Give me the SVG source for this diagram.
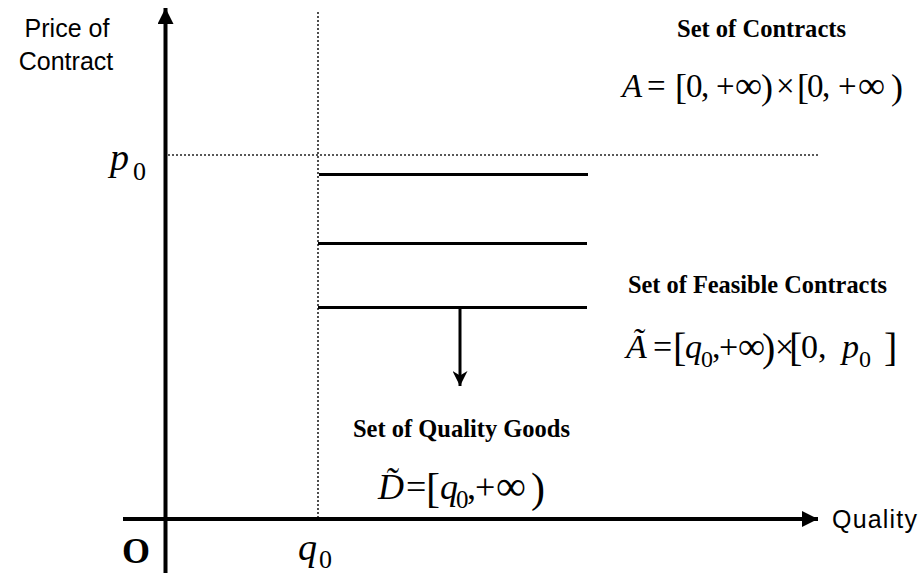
<svg xmlns="http://www.w3.org/2000/svg" width="921" height="573" viewBox="0 0 921 573">
<style>
.sans{font-family:"Liberation Sans",Arial,sans-serif;fill:#000}
.serif{font-family:"Liberation Serif","Times New Roman",serif;fill:#000}
.bold{font-family:"Liberation Serif","Times New Roman",serif;font-weight:bold;fill:#000}
.it{font-style:italic}
.axis{stroke:#000;stroke-width:4;fill:none}
.dot{stroke:#222;stroke-width:1.6;stroke-dasharray:2 2;fill:none}
.bar{stroke:#000;stroke-width:3;fill:none}
</style>
<defs>
<marker id="ah" viewBox="0 0 10 10" refX="10" refY="5" markerWidth="4" markerHeight="4" markerUnits="strokeWidth" orient="auto">
<path d="M0,0 L10,5 L0,10 z" fill="#000"/>
</marker>
<marker id="ah2" viewBox="0 0 10 10" refX="10" refY="5" markerWidth="5" markerHeight="5" markerUnits="strokeWidth" orient="auto">
<path d="M0,0 L10,5 L0,10 L3,5 z" fill="#000"/>
</marker>
</defs>
<rect width="921" height="573" fill="#fff"/>
<g id="connectors">
<line id="y-axis" class="axis" x1="165.5" y1="573" x2="165.5" y2="8" marker-end="url(#ah)"/>
<line id="x-axis" class="axis" x1="123" y1="519" x2="818" y2="519" marker-end="url(#ah)"/>
<line class="dot" x1="318" y1="12" x2="318" y2="517"/>
<line class="dot" x1="168" y1="155" x2="818" y2="155"/>
<line class="bar" x1="319" y1="174.5" x2="588" y2="174.5"/>
<line class="bar" x1="318" y1="243.5" x2="587" y2="243.5"/>
<line class="bar" x1="318" y1="307.5" x2="587" y2="307.5"/>
<line id="down-arrow" class="bar" x1="460" y1="307" x2="460" y2="386" marker-end="url(#ah2)"/>
</g>
<g id="axis-labels">
<text class="sans" x="67" y="37" font-size="25" text-anchor="middle">Price of</text>
<text class="sans" x="66" y="70" font-size="25" text-anchor="middle">Contract</text>
<text class="sans" x="832" y="528" font-size="25" textLength="85">Quality</text>
<text class="bold" x="122" y="563" font-size="36">O</text>
<text class="serif" x="110" y="170" font-size="38"><tspan class="it">p</tspan><tspan font-size="26" x="133" y="180">0</tspan></text>
<text class="serif" x="298" y="560" font-size="38"><tspan class="it">q</tspan><tspan font-size="26" x="319" y="568">0</tspan></text>
</g>
<g id="set-of-contracts">
<text class="bold" x="677" y="37" font-size="24.5" textLength="169" lengthAdjust="spacingAndGlyphs">Set of Contracts</text>
<text class="serif" font-size="33" y="97"><tspan class="it" x="622">A</tspan><tspan x="647">=</tspan><tspan x="675" y="99" font-size="36">[</tspan><tspan x="686" y="97">0</tspan><tspan x="701">,</tspan><tspan x="716">+</tspan><tspan x="735" y="98" font-size="38">∞</tspan><tspan x="761" y="99" font-size="36">)</tspan><tspan x="776" y="97">×</tspan><tspan x="797" y="99" font-size="36">[</tspan><tspan x="807" y="97">0</tspan><tspan x="822">,</tspan><tspan x="838">+</tspan><tspan x="858" y="98" font-size="38">∞</tspan><tspan x="891" y="99" font-size="36">)</tspan></text>
</g>
<g id="set-of-feasible-contracts">
<text class="bold" x="628" y="293" font-size="24.5" textLength="259" lengthAdjust="spacingAndGlyphs">Set of Feasible Contracts</text>
<text class="serif" font-size="34" y="358"><tspan class="it" x="626">Ã</tspan><tspan x="653">=</tspan><tspan x="673" y="361" font-size="40">[</tspan><tspan class="it" x="685" y="358">q</tspan><tspan x="701" y="367" font-size="24">0</tspan><tspan x="712" y="358">,</tspan><tspan x="719">+</tspan><tspan x="738" y="359" font-size="38">∞</tspan><tspan x="762" y="361" font-size="40">)</tspan><tspan x="775" y="358">×</tspan><tspan x="789" y="361" font-size="40">[</tspan><tspan x="801" y="358">0</tspan><tspan x="818">,</tspan><tspan class="it" x="842">p</tspan><tspan x="859" y="367" font-size="24">0</tspan><tspan x="884" y="361" font-size="40">]</tspan></text>
</g>
<g id="set-of-quality-goods">
<text class="bold" x="353" y="437" font-size="24.5" textLength="217" lengthAdjust="spacingAndGlyphs">Set of Quality Goods</text>
<text class="serif" font-size="36" y="499"><tspan class="it" x="378">D&#x303;</tspan><tspan x="406">=</tspan><tspan x="426" y="502" font-size="42">[</tspan><tspan class="it" x="440" y="499">q</tspan><tspan x="456" y="508" font-size="25">0</tspan><tspan x="467" y="499">,</tspan><tspan x="475">+</tspan><tspan x="496" y="500" font-size="42">∞</tspan><tspan x="531" y="502" font-size="42">)</tspan></text>
</g>
</svg>
